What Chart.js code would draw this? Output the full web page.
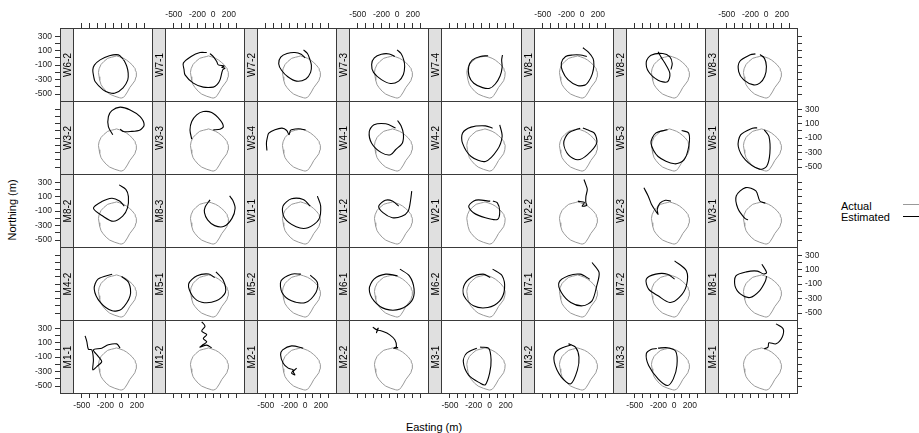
<!DOCTYPE html>
<html>
<head>
<meta charset="utf-8">
<script src="https://cdn.jsdelivr.net/npm/chart.js@4.4.1/dist/chart.umd.min.js"></script>
<style>
body { margin: 0; background: #fff; width: 919px; height: 433px; overflow: hidden; position: relative; font-family: "Liberation Sans", Arial, sans-serif; }
canvas { position: absolute; }
.cell { position: absolute; box-sizing: border-box; border: 1px solid #3a3a3a; z-index: 5; }
.strip { position: absolute; box-sizing: border-box; border: 1px solid #3a3a3a; background: #e0e0e0; z-index: 1; }
.slabel { position: absolute; font-size: 10px; color: #000; white-space: nowrap; transform: translate(-50%, -50%) rotate(-90deg); z-index: 6; }
.txt { position: absolute; font-size: 11px; color: #000; white-space: nowrap; }
.leg { position: absolute; height: 0; width: 17px; }
</style>
</head>
<body>
<script>
// actual track (same in every panel)
var actualX = [-80,-120,-170,-220,-255,-280,-288,-280,-272,-255,-230,-190,-145,-80,-20,0,30,50,80,110,145,175,190,194,185,180,165,140,110,70,30,-20,-60,-80]
var actualY = [20,10,-5,-50,-90,-150,-200,-260,-310,-370,-410,-460,-500,-530,-550,-555,-545,-520,-470,-410,-360,-315,-260,-200,-175,-150,-130,-95,-65,-30,-5,15,28,20]

// estimated tracks, one per panel
var est_W6_2 = [[30,-20],[-34,42],[-150,30],[-267,-27],[-340,-100],[-360,-165],[-350,-250],[-331,-326],[-229,-441],[-150,-480],[-76,-486],[25,-413],[85,-303],[90,-210],[73,-119],[40,-40],[29,-27]]
var est_W7_1 = [[-81,74],[-167,74],[-280,20],[-379,-72],[-370,-160],[-357,-234],[-252,-348],[-125,-403],[3,-403],[50,-370],[88,-303],[122,-165],[151,-141],[110,-130],[140,-110],[66,-96],[46,-50],[3,19],[-40,60]]
var est_W7_2 = [[-20,110],[30,60],[60,-20],[80,-100],[70,-200],[10,-290],[-110,-320],[-220,-260],[-300,-170],[-336,-80],[-310,10],[-230,60],[-130,75],[-50,50],[0,0]]
var est_W7_3 = [[0,110],[50,60],[85,-30],[96,-120],[80,-230],[20,-320],[-84,-353],[-200,-300],[-300,-200],[-324,-90],[-290,0],[-200,50],[-100,55],[-30,20]]
var est_W7_4 = [[-20,30],[-120,20],[-220,-30],[-264,-120],[-260,-250],[-200,-350],[-90,-410],[0,-420],[70,-360],[130,-250],[156,-130],[150,-30],[160,40]]
var est_W8_1 = [[10,140],[80,80],[140,-10],[150,-100],[130,-220],[80,-330],[36,-376],[-60,-380],[-180,-300],[-250,-180],[-264,-70],[-210,20],[-120,40],[-20,40],[60,20]]
var est_W8_2 = [[-204,84],[-160,0],[-114,-77],[-54,-215],[-84,-330],[-204,-307],[-324,-192],[-354,-54],[-294,38],[-144,61],[-54,15],[-24,-77],[-40,-160]]
var est_W8_3 = [[-136,56],[-200,42],[-336,-50],[-349,-188],[-285,-303],[-158,-372],[-81,-348],[-18,-257],[4,-119],[-22,-3],[-73,42],[-40,20],[-20,-10]]

var est_W3_2 = [[-106,-54],[-162,60],[-162,198],[-118,281],[-13,328],[115,290],[242,198],[293,83],[242,14],[115,-9],[29,-9],[-13,24]]
var est_W3_3 = [[-272,-114],[-294,14],[-272,129],[-209,221],[-125,267],[-18,253],[88,152],[130,60],[88,24],[3,14]]
var est_W3_4 = [[-486,-270],[-492,-169],[-480,-90],[-462,-31],[-384,15],[-294,38],[-234,6],[-204,-54],[-190,0],[-174,15],[-84,29],[6,15]]
var est_W4_1 = [[6,144],[50,70],[80,-40],[66,-169],[-20,-260],[-84,-330],[-200,-300],[-324,-169],[-354,-8],[-294,84],[-144,98],[-20,40]]
var est_W4_2 = [[126,84],[156,-77],[96,-261],[-54,-422],[-234,-353],[-342,-169],[-342,-31],[-234,52],[-54,70],[36,38]]
var est_W5_2 = [[-24,38],[-174,-31],[-234,-169],[-174,-330],[-54,-399],[66,-330],[186,-169],[156,-31],[66,15],[10,40]]
var est_W5_3 = [[-84,15],[-234,-31],[-294,-169],[-204,-353],[6,-454],[126,-399],[186,-215],[186,-31],[96,6]]
var est_W6_1 = [[-114,42],[-174,38],[-324,-54],[-354,-215],[-264,-399],[-84,-528],[6,-491],[48,-307],[36,-77],[-24,15]]

var est_M8_2 = [[-25,263],[60,200],[93,101],[80,-59],[20,-169],[-100,-240],[-230,-170],[-352,-59],[-246,32],[-118,79],[-20,40],[40,-30]]
var est_M8_3 = [[-39,56],[-100,-40],[-110,-120],[-70,-220],[20,-300],[140,-310],[240,-200],[280,-60],[250,50],[210,110]]
var est_W1_1 = [[156,107],[198,-31],[174,-215],[36,-330],[-114,-316],[-264,-192],[-282,-31],[-174,70],[-24,61],[66,-31]]
var est_W1_2 = [[186,176],[170,40],[140,-100],[60,-170],[-60,-190],[-180,-120],[-234,-31],[-150,50],[-60,40],[20,-30]]
var est_W2_1 = [[6,38],[-174,52],[-264,-31],[-204,-123],[-54,-192],[96,-215],[126,-100],[96,15],[40,40]]
var est_W2_2 = [[24,337],[50,260],[66,199],[48,100],[48,15],[60,-20],[0,-31],[30,20],[-54,38]]
var est_W2_3 = [[-384,222],[-330,110],[-290,0],[-240,-90],[-204,-146],[-215,-80],[-180,10],[-110,50],[-40,40]]
var est_W3_1 = [[-10,10],[-80,40],[-130,180],[-260,225],[-380,110],[-360,-60],[-270,-200],[-230,-220]]

var est_M4_2 = [[-114,38],[-294,-31],[-342,-169],[-264,-353],[-114,-468],[6,-445],[114,-261],[96,-77],[6,6]]
var est_M5_1 = [[36,70],[130,-50],[156,-215],[40,-330],[-144,-350],[-264,-260],[-312,-100],[-204,15],[-54,40],[20,-10]]
var est_M5_2 = [[-54,38],[-174,38],[-306,-54],[-294,-215],[-174,-330],[6,-353],[138,-215],[156,-77],[66,24]]
var est_M6_1 = [[36,107],[156,15],[216,-169],[186,-330],[36,-445],[-144,-445],[-294,-330],[-354,-169],[-294,-31],[-144,38],[6,15]]
var est_M6_2 = [[36,107],[156,15],[186,-169],[126,-330],[-24,-422],[-204,-399],[-324,-261],[-324,-123],[-234,-8],[-84,38],[6,-8]]
var est_M7_1 = [[126,199],[216,61],[186,-123],[126,-330],[6,-399],[-144,-353],[-264,-215],[-294,-77],[-174,15],[-24,38],[96,-31]]
var est_M7_2 = [[6,222],[156,84],[156,-123],[66,-284],[-54,-353],[-204,-261],[-324,-169],[-354,-31],[-234,38],[-84,38],[6,-31]]
var est_M8_1 = [[-54,176],[6,61],[-30,40],[-110,80],[-250,70],[-384,15],[-396,-123],[-324,-238],[-204,-284],[-84,-192],[-10,-60],[6,10]]

var est_M1_1 = [[-458,194],[-436,115],[-416,10],[-373,1],[-352,-137],[-360,-275],[-309,-230],[-246,-161],[-289,-92],[-352,1],[-246,24],[-162,70],[-55,83],[-13,24]]
var est_M1_2 = [[-145,387],[-103,328],[-145,259],[-81,212],[-125,157],[-81,111],[-125,74],[-167,38],[-81,66],[-18,28]]
var est_M2_1 = [[-24,24],[-172,56],[-286,1],[-312,-68],[-279,-183],[-215,-252],[-151,-275],[-172,-321],[-130,-344],[-151,-299],[-108,-252]]
var est_M2_2 = [[-310,315],[-262,280],[-240,300],[-262,239],[-250,270],[-178,253],[-93,208],[-29,139],[-8,46],[-42,24],[13,32]]
var est_M3_1 = [[-162,24],[-289,-45],[-332,-161],[-268,-344],[-120,-459],[-56,-482],[-1,-321],[17,-137],[-14,24],[-120,38]]
var est_M3_2 = [[-174,84],[-84,38],[-40,-100],[-60,-280],[-144,-468],[-264,-376],[-354,-169],[-336,-31],[-234,38],[-130,70]]
var est_M3_3 = [[-204,24],[-84,30],[20,-20],[36,-215],[-10,-400],[-84,-491],[-204,-399],[-324,-215],[-354,-54],[-294,6],[-220,20]]
var est_M4_1 = [[126,360],[216,291],[204,176],[126,84],[36,98],[24,38],[-24,15]]

var panelNames = [
    ["W6-2","W7-1","W7-2","W7-3","W7-4","W8-1","W8-2","W8-3"],
    ["W3-2","W3-3","W3-4","W4-1","W4-2","W5-2","W5-3","W6-1"],
    ["M8-2","M8-3","W1-1","W1-2","W2-1","W2-2","W2-3","W3-1"],
    ["M4-2","M5-1","M5-2","M6-1","M6-2","M7-1","M7-2","M8-1"],
    ["M1-1","M1-2","M2-1","M2-2","M3-1","M3-2","M3-3","M4-1"]
]
var panelPaths = [
    [est_W6_2, est_W7_1, est_W7_2, est_W7_3, est_W7_4, est_W8_1, est_W8_2, est_W8_3],
    [est_W3_2, est_W3_3, est_W3_4, est_W4_1, est_W4_2, est_W5_2, est_W5_3, est_W6_1],
    [est_M8_2, est_M8_3, est_W1_1, est_W1_2, est_W2_1, est_W2_2, est_W2_3, est_W3_1],
    [est_M4_2, est_M5_1, est_M5_2, est_M6_1, est_M6_2, est_M7_1, est_M7_2, est_M8_1],
    [est_M1_1, est_M1_2, est_M2_1, est_M2_2, est_M3_1, est_M3_2, est_M3_3, est_M4_1]
]

var xTicks = [-500,-400,-300,-200,-100,0,100,200,300]
var xTickLabels = [-500,-200,0,200]
var yTicks = [-500,-400,-300,-200,-100,0,100,200,300]
var yTickLabels = [300,100,-100,-300,-500]
var xMin = -612, xMax = 393
var yMin = -595, yMax = 413

var M = 30
var FONT = '"Liberation Sans", Arial, sans-serif'
var stripW = 13
var rowH = 73

function colLeft(c) { return Math.round(60 + c * 92.1) }
function rowTop(r) { return 28 + r * 73 }

function makeScale(isX, pos, show, labeled, fitSize) {
    var tickList = isX ? xTicks : yTicks
    var labelList = isX ? xTickLabels : yTickLabels
    return {
        type: 'linear',
        position: pos,
        display: show,
        min: isX ? xMin : yMin,
        max: isX ? xMax : yMax,
        grid: { drawOnChartArea: false, drawTicks: true, tickLength: 5, color: '#333', lineWidth: 1 },
        border: { display: false },
        afterBuildTicks: function (s) {
            s.ticks = tickList.map(function (v) { return { value: v } })
        },
        afterFit: function (s) {
            if (!show) return
            if (isX) s.height = fitSize
            else s.width = fitSize
        },
        ticks: {
            autoSkip: false,
            maxRotation: 0,
            padding: 3,
            color: '#222',
            font: { size: 8.5, family: FONT },
            callback: function (v) {
                return (labeled && labelList.indexOf(v) >= 0) ? String(v) : ''
            }
        }
    }
}

function addCanvas(left, ptop, w, h) {
    var cv = document.createElement('canvas')
    cv.width = w
    cv.height = h
    cv.style.left = left + 'px'
    cv.style.top = ptop + 'px'
    cv.style.width = w + 'px'
    cv.style.height = h + 'px'
    cv.style.zIndex = 3
    document.body.appendChild(cv)
    return cv
}

function addDiv(cls, left, ptop, w, h) {
    var d = document.createElement('div')
    d.className = cls
    d.style.left = left + 'px'
    d.style.top = ptop + 'px'
    if (w != null) d.style.width = w + 'px'
    if (h != null) d.style.height = h + 'px'
    document.body.appendChild(d)
    return d
}

var actualPts = actualX.map(function (x, i) { return { x: x, y: actualY[i] } })

function drawPanel(r, c) {
    var cl = colLeft(c)
    var cw = colLeft(c + 1) - cl
    var pl = cl + stripW
    var pw = cw - stripW
    var pt = rowTop(r)

    addDiv('cell', cl, pt, cw + 1, rowH + 1)
    addDiv('strip', cl, pt, stripW + 1, rowH + 1)
    var lab = addDiv('slabel', cl + stripW / 2 + 0.5, pt + rowH / 2)
    lab.textContent = panelNames[r][c]

    var showTop = r == 0, showBottom = r == 4, showRight = c == 7
    var cv = addCanvas(pl - M, pt - M, pw + 2 * M, rowH + 2 * M)
    var est = panelPaths[r][c].map(function (p) { return { x: p[0], y: p[1] } })

    var scales = {
        x: makeScale(true, 'bottom', showBottom, c % 2 == 0, M),
        y: makeScale(false, 'left', false, false, M)
    }
    if (showTop) scales.x2 = makeScale(true, 'top', true, c % 2 == 1, M)
    if (showRight) scales.y2 = makeScale(false, 'right', true, r % 2 == 1, M)

    new Chart(cv, {
        type: 'scatter',
        data: {
            datasets: [{
                label: 'Estimated',
                data: est,
                showLine: true,
                borderColor: '#000',
                borderWidth: 1.1,
                pointRadius: 0,
                tension: 0.3,
                fill: false
            }, {
                label: 'Actual',
                data: actualPts,
                showLine: true,
                borderColor: '#999',
                borderWidth: 1,
                pointRadius: 0,
                tension: 0,
                fill: false
            }]
        },
        options: {
            responsive: false,
            animation: false,
            events: [],
            layout: { padding: { left: M, right: showRight ? 0 : M, top: showTop ? 0 : M, bottom: showBottom ? 0 : M } },
            plugins: { legend: { display: false }, tooltip: { enabled: false } },
            scales: scales
        }
    })
}

// left axis sits on the outer side of the strip of column 1
function drawLeftAxis(r) {
    var acv = addCanvas(0, rowTop(r) - M, 60 + stripW, rowH + 2 * M)
    new Chart(acv, {
        type: 'scatter',
        data: { datasets: [] },
        options: {
            responsive: false,
            animation: false,
            events: [],
            layout: { padding: { left: 0, right: 0, top: M, bottom: M } },
            plugins: { legend: { display: false }, tooltip: { enabled: false } },
            scales: {
                x: { type: 'linear', display: false, min: xMin, max: xMax },
                y: makeScale(false, 'left', true, r % 2 == 0, 60)
            }
        }
    })
}

for (var r = 0; r < 5; r++) {
    for (var c = 0; c < 8; c++) drawPanel(r, c)
    drawLeftAxis(r)
}

function addText(txt, left, ptop, tf) {
    var d = addDiv('txt', left, ptop)
    d.textContent = txt
    if (tf) d.style.transform = tf
    return d
}

addText('Easting (m)', 434, 427, 'translate(-50%, -50%)')
addText('Northing (m)', 12, 210, 'translate(-50%, -50%) rotate(-90deg)')
addText('Actual', 841, 206, 'translateY(-50%)')
addText('Estimated', 841, 217, 'translateY(-50%)')

var l1 = addDiv('leg', 903, 204)
l1.style.borderTop = '1px solid #999'
var l2 = addDiv('leg', 903, 216)
l2.style.borderTop = '1px solid #000'
</script>
</body>
</html>
